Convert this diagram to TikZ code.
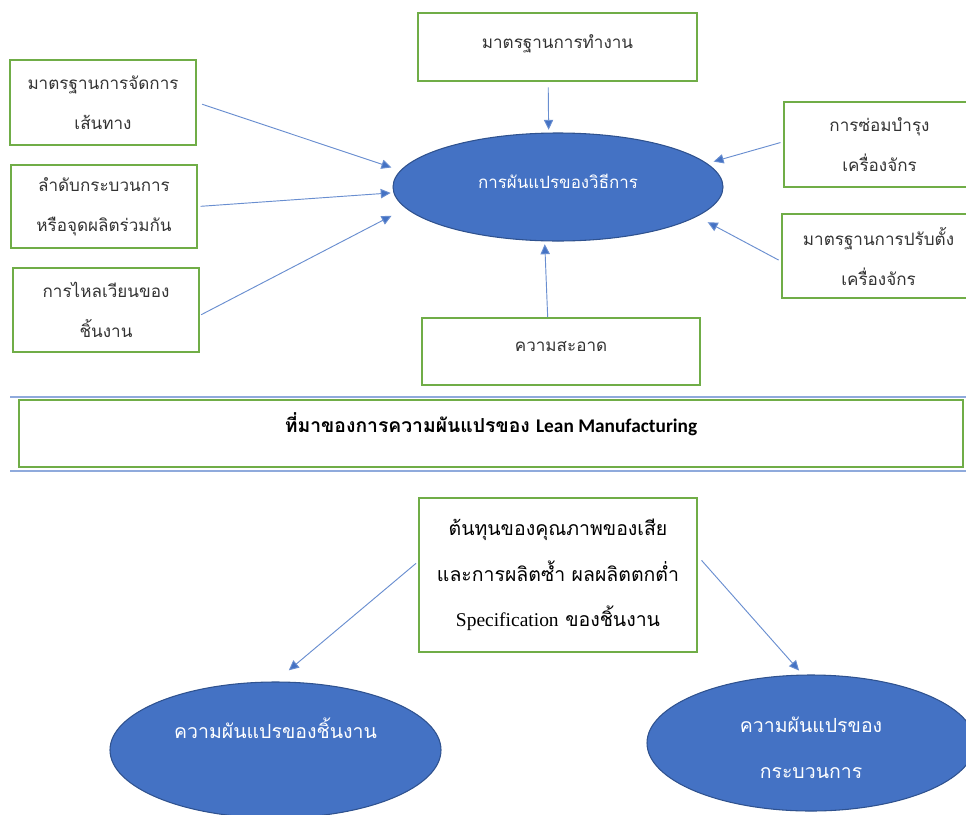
\documentclass[tikz,border=0pt]{standalone}
\usepackage{fontspec}
\usetikzlibrary{shapes.geometric,arrows.meta}
\newfontfamily\thaifont[Script=Thai]{Loma}
\newfontfamily\calfont{Carlito}
\newfontfamily\timesfont{Liberation Serif}
\definecolor{boxgreen}{HTML}{70AD47}
\definecolor{ovalblue}{HTML}{4472C4}
\definecolor{ovalline}{HTML}{2F528F}
\definecolor{rulecol}{HTML}{8FAADC}
\begin{document}
\begin{tikzpicture}[x=0.75pt,y=-0.75pt,
    box/.style={draw=boxgreen, line width=1.5pt, fill=white, inner sep=0pt, text=black!80,
        align=center, font=\thaifont\fontsize{12.8}{30}\selectfont},
    oval/.style={ellipse, draw=ovalline, line width=0.8pt, fill=ovalblue, text=white,
        align=center, inner sep=0pt},
    conn/.style={draw=ovalblue!80, line width=0.7pt,
        -{Triangle[length=7.5pt,width=7pt,fill=ovalblue]}}]
    \useasboundingbox (0,0) rectangle (966,814);
    % Bagian atas
    \node[oval, minimum width=247.5pt, minimum height=81pt, text depth=9pt,
        font=\thaifont\fontsize{12.7}{30}\selectfont] (method) at (558,187) {การผันแปรของวิธีการ};
    \node[box, minimum width=209.3pt, minimum height=51pt, text depth=8pt] (std) at (557.5,47) {มาตรฐานการทำงาน};
    \node[box, minimum width=139.5pt, minimum height=63.75pt] (route) at (103,102.5) {มาตรฐานการจัดการ\\เส้นทาง};
    \node[box, minimum width=139.5pt, minimum height=62.25pt] (seq) at (104,206.5) {ลำดับกระบวนการ\\หรือจุดผลิตร่วมกัน};
    \node[box, minimum width=139.5pt, minimum height=63pt] (flow) at (106,310) {การไหลเวียนของ\\ชิ้นงาน};
    \node[box, minimum width=143.25pt, minimum height=63.75pt] (maint) at (879.5,144.5) {การซ่อมบำรุง\\เครื่องจักร};
    \node[box, minimum width=144.75pt, minimum height=63pt] (setup) at (878.5,256) {มาตรฐานการปรับตั้ง\\เครื่องจักร};
    \node[box, minimum width=208.5pt, minimum height=50.25pt, text depth=8pt] (clean) at (561,351.5) {ความสะอาด};
    % Panah ke elips
    \draw[conn, shorten <=4pt, shorten >=2pt] ([xshift=-7pt]std.south) -- ([xshift=-7pt]method.north);
    \draw[conn, shorten <=4pt, shorten >=7pt] (route.east) -- (method.174);
    \draw[conn, shorten <=2pt, shorten >=2pt] (seq.east) -- (method.182);
    \draw[conn, shorten <=1pt, shorten >=12pt] ([yshift=-4pt]flow.east) -- (method.188);
    \draw[conn, shorten <=2pt, shorten >=5pt] ([yshift=2pt]maint.west) -- (method.9);
    \draw[conn, shorten <=2pt, shorten >=9pt] ([yshift=-4pt]setup.west) -- (method.-12);
    \draw[conn, shorten >=2pt] ([xshift=-10pt]clean.north) -- ([xshift=-10pt]method.south);
    % Garis pemisah
    \draw[rulecol, line width=1.5pt] (10,397) -- (966,397);
    \draw[rulecol, line width=1.5pt] (10,471) -- (966,471);
    \node[box, minimum width=708pt, minimum height=50.25pt, text depth=16pt, text=black,
        font=\fontsize{14.5}{30}\selectfont] (title) at (491,433.5)
        {{\thaifont\bfseries ที่มาของการความผันแปรของ} {\calfont\bfseries Lean Manufacturing}};
    % Bagian bawah
    \node[box, minimum width=208.5pt, minimum height=115.5pt, text=black,
        font=\thaifont\fontsize{14.6}{34}\selectfont] (cost) at (558,575)
        {ต้นทุนของคุณภาพของเสีย\\และการผลิตซ้ำ ผลผลิตตกต่ำ\\{\timesfont Specification} ของชิ้นงาน};
    \node[oval, minimum width=248.25pt, minimum height=102pt, text depth=32pt,
        font=\thaifont\fontsize{14.6}{34}\selectfont] (part) at (275.5,750) {ความผันแปรของชิ้นงาน};
    \node[oval, minimum width=246pt, minimum height=102pt, text height=54pt,
        font=\thaifont\fontsize{14.6}{35}\selectfont] (proc) at (811,743) {ความผันแปรของ\\กระบวนการ};
    \draw[conn, shorten <=2pt, shorten >=13pt] ([yshift=10pt]cost.west) -- (part.north);
    \draw[conn, shorten <=4pt, shorten >=4pt] ([yshift=14pt]cost.east) -- (proc.97);
\end{tikzpicture}
\end{document}
